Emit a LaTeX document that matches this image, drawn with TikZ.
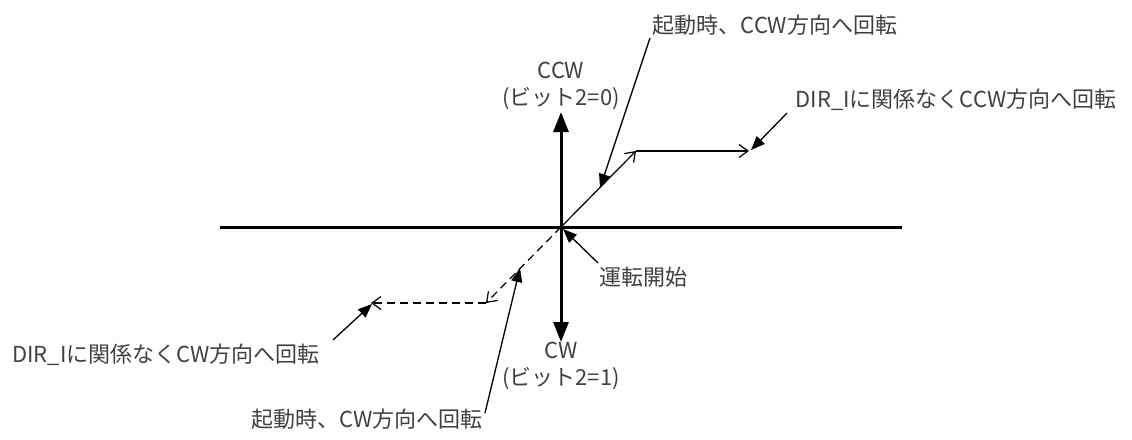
\documentclass[tikz,border=0pt]{standalone}
\usepackage{fontspec}
\setmainfont{Noto Sans CJK JP}
\usetikzlibrary{arrows.meta}
\begin{document}
\begin{tikzpicture}[x=1pt,y=-1pt,
  lbl/.style={font=\fontsize{22}{27}\selectfont, text=black!75, inner sep=0pt, align=center},
  axis/.style={line width=3pt},
  axisarrow/.style={line width=3pt, -{Triangle[length=20pt,width=15pt]}},
  route/.style={line width=1.2pt, -{Straight Barb[length=9pt,width=13pt]}},
  dashroute/.style={route, dash pattern=on 8pt off 5pt},
  pointer/.style={line width=1.3pt, -{Triangle[length=14pt,width=11pt]}}
]
\useasboundingbox (0,0) rectangle (1132,439);
% axes
\coordinate (O) at (561,227);
\coordinate (L) at (220,227);
\coordinate (R) at (902,227);
\coordinate (Up) at (561,112);
\coordinate (Dn) at (561,342);
\draw[axis] (L) -- (R);
\draw[axisarrow] (O) -- (Up);
\draw[axisarrow] (O) -- (Dn);
% routes
\coordinate (E1) at (636,151);
\coordinate (H1) at (749,151);
\coordinate (E2) at (486,303);
\coordinate (H2) at (371,303);
\draw[route] (O) -- (E1);
\draw[route] (E1) -- (H1);
\draw[dashroute] (O) -- (E2);
\draw[dashroute] (E2) -- (H2);
% labels
\node[lbl] (ccw) at (561,86) {CCW\\(ビット2=0)};
\node[lbl] (cw) at (561,366) {CW\\(ビット2=1)};
\node[lbl] (t1) at (775,25) {起動時、CCW方向へ回転};
\node[lbl] (t2) at (956,100) {DIR\_Iに関係なくCCW方向へ回転};
\node[lbl] (t3) at (643,277) {運転開始};
\node[lbl] (t4) at (166,355) {DIR\_Iに関係なくCW方向へ回転};
\node[lbl] (t5) at (367,419) {起動時、CW方向へ回転};
% pointers
\coordinate (p1) at (650,38);
\coordinate (a1) at (600,188);
\coordinate (p2) at (787,113);
\coordinate (a2) at (751,150);
\coordinate (p3) at (598,263);
\coordinate (a3) at (563,229);
\coordinate (p4) at (333,340);
\coordinate (a4) at (372,304);
\coordinate (p5) at (485,413);
\coordinate (a5) at (520,268);
\draw[pointer] (p1) -- (a1);
\draw[pointer] (p2) -- (a2);
\draw[pointer] (p3) -- (a3);
\draw[pointer] (p4) -- (a4);
\draw[pointer] (p5) -- (a5);
\end{tikzpicture}
\end{document}
